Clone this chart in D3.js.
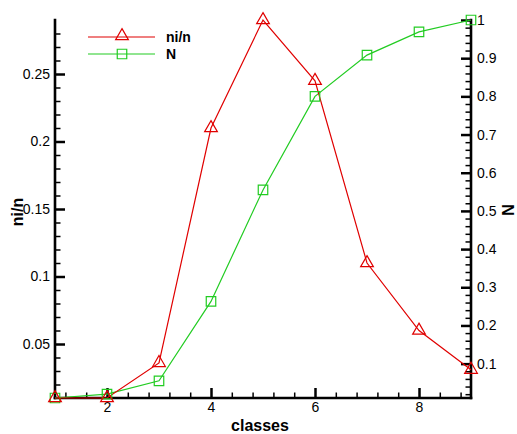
<!DOCTYPE html>
<html>
<head>
<meta charset="utf-8">
<script src="https://cdn.jsdelivr.net/npm/d3@7/dist/d3.min.js"></script>
<style>
  html, body { margin: 0; padding: 0; background: #fff; }
  svg { display: block; font-family: "Liberation Sans", Arial, sans-serif; }
</style>
</head>
<body>
<script>
// ---- data ----
const classes = [1, 2, 3, 4, 5, 6, 7, 8, 9];
const niN = [0.01, 0.01, 0.036, 0.21, 0.29, 0.245, 0.11, 0.06, 0.031];
const cumN = [0.01, 0.02, 0.055, 0.263, 0.555, 0.80, 0.908, 0.969, 1.0];
const xTicks = [2, 4, 6, 8];
const leftTicks = [0.05, 0.1, 0.15, 0.2, 0.25];
const rightTicks = [0.1, 0.2, 0.3, 0.4, 0.5, 0.6, 0.7, 0.8, 0.9, 1.0];
const seriesNames = ["ni/n", "N"];

(function () {
const W = 517, H = 434;
const pL = 55, pR = 471, pT = 20, pB = 398;
const RED = "#e00000", GREEN = "#22cc22";

const svg = d3.select("body").append("svg").attr("width", W).attr("height", H);

const x = d3.scaleLinear().domain([1, 9]).range([pL, pR]);
const yL = d3.scaleLinear().domain([0.01, 0.29]).range([pB, pT]);
const yR = d3.scaleLinear().domain([0.01, 1.0]).range([pB, pT]);

// minor tick values
const xMinor = d3.range(1.2, 9.0, 0.4).map(v => +v.toFixed(2)).filter(v => Math.abs(v / 2 - Math.round(v / 2)) > 1e-6);
const lMinor = d3.range(0.02, 0.29, 0.01).map(v => +v.toFixed(3)).filter(v => Math.abs(v / 0.05 - Math.round(v / 0.05)) > 1e-6);
const rMinor = d3.range(0.02, 1.0, 0.02).map(v => +v.toFixed(3)).filter(v => Math.abs(v / 0.1 - Math.round(v / 0.1)) > 1e-6);

function styleAxis(g, majorW) {
  g.select(".domain").remove();
  g.selectAll(".tick line").attr("stroke", "#000").attr("stroke-width", majorW);
  g.selectAll(".tick text").attr("fill", "#000").attr("font-size", 14);
}

// minor ticks
const gxm = svg.append("g").attr("transform", `translate(0,${pB})`)
  .call(d3.axisBottom(x).tickValues(xMinor).tickSize(-5.5).tickFormat(""));
styleAxis(gxm, 1.5);
const glm = svg.append("g").attr("transform", `translate(${pL},0)`)
  .call(d3.axisLeft(yL).tickValues(lMinor).tickSize(-5.5).tickFormat(""));
styleAxis(glm, 1.5);
const grm = svg.append("g").attr("transform", `translate(${pR},0)`)
  .call(d3.axisRight(yR).tickValues(rMinor).tickSize(-5.5).tickFormat(""));
styleAxis(grm, 1.5);

// major ticks
const gx = svg.append("g").attr("transform", `translate(0,${pB})`)
  .call(d3.axisBottom(x).tickValues(xTicks).tickSize(-10).tickPadding(4).tickFormat(d3.format("d")));
styleAxis(gx, 2.5);
const gl = svg.append("g").attr("transform", `translate(${pL},0)`)
  .call(d3.axisLeft(yL).tickValues(leftTicks).tickSize(-10).tickPadding(5).tickFormat(d => String(+d.toFixed(2))));
styleAxis(gl, 2.5);
const gr = svg.append("g").attr("transform", `translate(${pR},0)`)
  .call(d3.axisRight(yR).tickValues(rightTicks).tickSize(-10).tickPadding(6).tickFormat(d => String(+d.toFixed(1))));
styleAxis(gr, 2.5);

// axis lines
const axisLines = [
  [pL, pT, pL, pB],
  [pR, pT, pR, pB],
  [pL, pB, pR, pB]
];
svg.append("g").selectAll("line").data(axisLines).join("line")
  .attr("x1", d => d[0]).attr("y1", d => d[1]).attr("x2", d => d[2]).attr("y2", d => d[3])
  .attr("stroke", "#000").attr("stroke-width", 2.6).attr("stroke-linecap", "square");

// axis titles
svg.append("text").attr("x", 260).attr("y", 431).attr("text-anchor", "middle")
  .attr("font-size", 16).attr("font-weight", "bold").text("classes");
svg.append("text").attr("transform", `translate(23,212) rotate(-90)`).attr("text-anchor", "middle")
  .attr("font-size", 16).attr("font-weight", "bold").text("ni/n");
svg.append("text").attr("transform", `translate(514,210) rotate(-90)`).attr("text-anchor", "middle")
  .attr("font-size", 16).attr("font-weight", "bold").text("N");

// series
const triSym = d3.symbol().type(d3.symbolTriangle).size(70);
const sqSym = d3.symbol().type(d3.symbolSquare).size(90);

const lineL = d3.line().x((d, i) => x(classes[i])).y(d => yL(d));
const lineR = d3.line().x((d, i) => x(classes[i])).y(d => yR(d));

svg.append("path").attr("d", lineR(cumN)).attr("fill", "none").attr("stroke", GREEN).attr("stroke-width", 1.2);
svg.append("path").attr("d", lineL(niN)).attr("fill", "none").attr("stroke", RED).attr("stroke-width", 1.2);

svg.append("g").selectAll("path").data(cumN).join("path")
  .attr("transform", (d, i) => `translate(${x(classes[i])},${yR(d)})`)
  .attr("d", sqSym).attr("fill", "none").attr("stroke", GREEN).attr("stroke-width", 1.2);
svg.append("g").selectAll("path").data(niN).join("path")
  .attr("transform", (d, i) => `translate(${x(classes[i])},${yL(d)})`)
  .attr("d", triSym).attr("fill", "none").attr("stroke", RED).attr("stroke-width", 1.2);

// legend
const legend = svg.append("g");
const legY = [37, 54];
const legColors = [RED, GREEN];
const legSyms = [triSym, sqSym];
seriesNames.forEach((name, i) => {
  legend.append("line").attr("x1", 88).attr("x2", 155).attr("y1", legY[i]).attr("y2", legY[i])
    .attr("stroke", legColors[i]).attr("stroke-width", 1.2);
  legend.append("path").attr("transform", `translate(122,${legY[i] - (i === 0 ? 1 : 0)})`)
    .attr("d", legSyms[i]).attr("fill", "none").attr("stroke", legColors[i]).attr("stroke-width", 1.2);
  legend.append("text").attr("x", 166).attr("y", legY[i] + 5)
    .attr("font-size", 14).attr("font-weight", "bold").text(name);
});
})();
</script>
</body>
</html>
